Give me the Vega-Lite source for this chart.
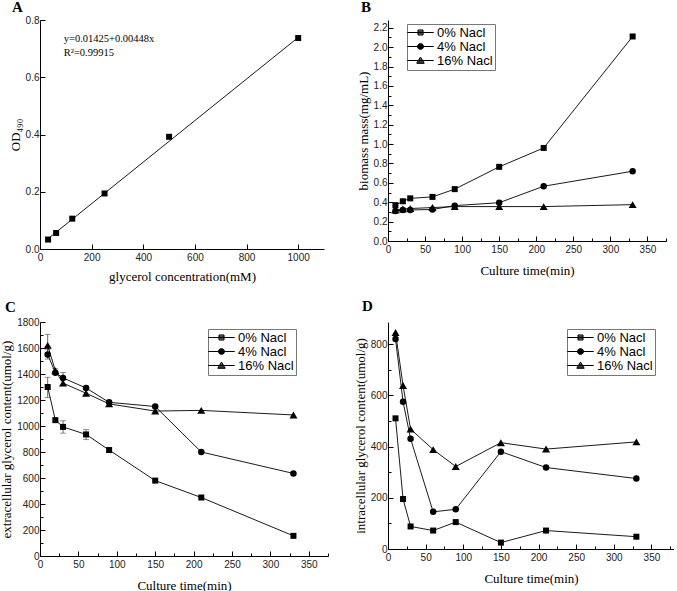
{
  "$schema": "https://vega.github.io/schema/vega-lite/v6.json",
  "autosize": {"type": "pad"},
  "padding": {"left": 0, "top": 0, "right": 0, "bottom": 0},
  "background": "white",
  "columns": 2,
  "bounds": "flush",
  "spacing": {"row": 73, "column": 60},
  "resolve": {"scale": {"shape": "independent"}, "legend": {"shape": "independent"}},
  "datasets": {
    "a": [
      {"c": 31.25, "od": 0.033}, {"c": 62.5, "od": 0.056}, {"c": 125, "od": 0.106},
      {"c": 250, "od": 0.194}, {"c": 500, "od": 0.392}, {"c": 1000, "od": 0.737}
    ],
    "afit": [{"c": 31.25, "od": 0.036}, {"c": 1000, "od": 0.739}],
    "b": [
      {"t": 10, "s": "0% Nacl", "v": 0.37}, {"t": 20, "s": "0% Nacl", "v": 0.41}, {"t": 30, "s": "0% Nacl", "v": 0.44},
      {"t": 60, "s": "0% Nacl", "v": 0.455}, {"t": 90, "s": "0% Nacl", "v": 0.535}, {"t": 150, "s": "0% Nacl", "v": 0.765},
      {"t": 210, "s": "0% Nacl", "v": 0.96}, {"t": 330, "s": "0% Nacl", "v": 2.11},
      {"t": 10, "s": "4% Nacl", "v": 0.31}, {"t": 20, "s": "4% Nacl", "v": 0.32}, {"t": 30, "s": "4% Nacl", "v": 0.32},
      {"t": 60, "s": "4% Nacl", "v": 0.325}, {"t": 90, "s": "4% Nacl", "v": 0.365}, {"t": 150, "s": "4% Nacl", "v": 0.395},
      {"t": 210, "s": "4% Nacl", "v": 0.565}, {"t": 330, "s": "4% Nacl", "v": 0.72},
      {"t": 10, "s": "16% Nacl", "v": 0.32}, {"t": 20, "s": "16% Nacl", "v": 0.33}, {"t": 30, "s": "16% Nacl", "v": 0.335},
      {"t": 60, "s": "16% Nacl", "v": 0.345}, {"t": 90, "s": "16% Nacl", "v": 0.355}, {"t": 150, "s": "16% Nacl", "v": 0.355},
      {"t": 210, "s": "16% Nacl", "v": 0.355}, {"t": 330, "s": "16% Nacl", "v": 0.375}
    ],
    "c": [
      {"t": 10, "s": "0% Nacl", "v": 1300}, {"t": 20, "s": "0% Nacl", "v": 1045}, {"t": 30, "s": "0% Nacl", "v": 993},
      {"t": 60, "s": "0% Nacl", "v": 935}, {"t": 90, "s": "0% Nacl", "v": 815}, {"t": 150, "s": "0% Nacl", "v": 580},
      {"t": 210, "s": "0% Nacl", "v": 450}, {"t": 330, "s": "0% Nacl", "v": 155},
      {"t": 10, "s": "4% Nacl", "v": 1550}, {"t": 20, "s": "4% Nacl", "v": 1410}, {"t": 30, "s": "4% Nacl", "v": 1370},
      {"t": 60, "s": "4% Nacl", "v": 1292}, {"t": 90, "s": "4% Nacl", "v": 1182}, {"t": 150, "s": "4% Nacl", "v": 1150},
      {"t": 210, "s": "4% Nacl", "v": 800}, {"t": 330, "s": "4% Nacl", "v": 635},
      {"t": 10, "s": "16% Nacl", "v": 1620}, {"t": 20, "s": "16% Nacl", "v": 1425}, {"t": 30, "s": "16% Nacl", "v": 1330},
      {"t": 60, "s": "16% Nacl", "v": 1252}, {"t": 90, "s": "16% Nacl", "v": 1170}, {"t": 150, "s": "16% Nacl", "v": 1115},
      {"t": 210, "s": "16% Nacl", "v": 1120}, {"t": 330, "s": "16% Nacl", "v": 1085}
    ],
    "cerr": [
      {"t": 10, "lo": 1220, "hi": 1375}, {"t": 20, "lo": 1033, "hi": 1057}, {"t": 30, "lo": 945, "hi": 1040},
      {"t": 60, "lo": 895, "hi": 972}, {"t": 10, "lo": 1515, "hi": 1590}, {"t": 20, "lo": 1395, "hi": 1440},
      {"t": 30, "lo": 1310, "hi": 1412}, {"t": 60, "lo": 1235, "hi": 1305}, {"t": 10, "lo": 1540, "hi": 1705},
      {"t": 150, "lo": 1100, "hi": 1160}
    ],
    "d": [
      {"t": 10, "s": "0% Nacl", "v": 510}, {"t": 20, "s": "0% Nacl", "v": 195}, {"t": 30, "s": "0% Nacl", "v": 88},
      {"t": 60, "s": "0% Nacl", "v": 72}, {"t": 90, "s": "0% Nacl", "v": 105}, {"t": 150, "s": "0% Nacl", "v": 25},
      {"t": 210, "s": "0% Nacl", "v": 72}, {"t": 330, "s": "0% Nacl", "v": 48},
      {"t": 10, "s": "4% Nacl", "v": 820}, {"t": 20, "s": "4% Nacl", "v": 575}, {"t": 30, "s": "4% Nacl", "v": 430},
      {"t": 60, "s": "4% Nacl", "v": 145}, {"t": 90, "s": "4% Nacl", "v": 155}, {"t": 150, "s": "4% Nacl", "v": 380},
      {"t": 210, "s": "4% Nacl", "v": 318}, {"t": 330, "s": "4% Nacl", "v": 275},
      {"t": 10, "s": "16% Nacl", "v": 845}, {"t": 20, "s": "16% Nacl", "v": 638}, {"t": 30, "s": "16% Nacl", "v": 468},
      {"t": 60, "s": "16% Nacl", "v": 388}, {"t": 90, "s": "16% Nacl", "v": 322}, {"t": 150, "s": "16% Nacl", "v": 415},
      {"t": 210, "s": "16% Nacl", "v": 390}, {"t": 330, "s": "16% Nacl", "v": 418}
    ]
  },
  "concat": [
    {
      "width": 284, "height": 229,
      "title": {"text": "A", "anchor": "start", "frame": "group", "dx": -28, "offset": 0},
      "layer": [
        {
          "data": {"name": "afit"},
          "mark": {"type": "line", "color": "black", "strokeWidth": 0.9},
          "encoding": {
            "x": {"field": "c", "type": "quantitative", "scale": {"domain": [0, 1100], "nice": false},
              "axis": {"values": [0, 100, 200, 300, 400, 500, 600, 700, 800, 900, 1000, 1100],
                "format": "d",
                "labelExpr": "datum.value % 200 === 0 ? datum.label : ''",
                "tickSize": {"condition": {"test": "datum.value % 200 === 0", "value": -5}, "value": -3},
                "title": "glycerol concentration(mM)"}},
            "y": {"field": "od", "type": "quantitative", "scale": {"domain": [0, 0.8], "nice": false},
              "axis": {"values": [0, 0.05, 0.1, 0.15, 0.2, 0.25, 0.3, 0.35, 0.4, 0.45, 0.5, 0.55, 0.6, 0.65, 0.7, 0.75, 0.8],
                "format": ".1f",
                "labelExpr": "round(datum.value * 100) % 10 === 0 ? datum.label : ''",
                "tickSize": {"condition": {"test": "round(datum.value * 100) % 10 === 0", "value": -5}, "value": -3},
                "title": "OD₄₉₀"}}
          }
        },
        {
          "data": {"name": "a"},
          "mark": {"type": "point", "shape": "square", "filled": true, "color": "black", "opacity": 1, "size": 36},
          "encoding": {
            "x": {"field": "c", "type": "quantitative", "scale": {"domain": [0, 1100], "nice": false},
              "axis": {"values": [0, 100, 200, 300, 400, 500, 600, 700, 800, 900, 1000, 1100],
                "format": "d",
                "labelExpr": "datum.value % 200 === 0 ? datum.label : ''",
                "tickSize": {"condition": {"test": "datum.value % 200 === 0", "value": -5}, "value": -3},
                "title": "glycerol concentration(mM)"}},
            "y": {"field": "od", "type": "quantitative", "scale": {"domain": [0, 0.8], "nice": false},
              "axis": {"values": [0, 0.05, 0.1, 0.15, 0.2, 0.25, 0.3, 0.35, 0.4, 0.45, 0.5, 0.55, 0.6, 0.65, 0.7, 0.75, 0.8],
                "format": ".1f",
                "labelExpr": "round(datum.value * 100) % 10 === 0 ? datum.label : ''",
                "tickSize": {"condition": {"test": "round(datum.value * 100) % 10 === 0", "value": -5}, "value": -3},
                "title": "OD₄₉₀"}}
          }
        },
        {
          "data": {"values": [{}]},
          "mark": {"type": "text", "align": "left", "baseline": "middle", "font": "Liberation Serif", "fontSize": 10.5, "color": "black"},
          "encoding": {"x": {"datum": 92}, "y": {"datum": 0.733}, "text": {"value": "y=0.01425+0.00448x"}}
        },
        {
          "data": {"values": [{}]},
          "mark": {"type": "text", "align": "left", "baseline": "middle", "font": "Liberation Serif", "fontSize": 10.5, "color": "black"},
          "encoding": {"x": {"datum": 92}, "y": {"datum": 0.683}, "text": {"value": "R²=0.99915"}}
        }
      ]
    },
    {
      "width": 278, "height": 221,
      "title": {"text": "B", "anchor": "start", "frame": "group", "dx": -27, "offset": 5},
      "data": {"name": "b"},
      "encoding": {
        "x": {"field": "t", "type": "quantitative", "scale": {"domain": [0, 375], "nice": false},
          "axis": {"values": [0, 25, 50, 75, 100, 125, 150, 175, 200, 225, 250, 275, 300, 325, 350, 375],
            "format": "d",
            "labelExpr": "datum.value % 50 === 0 ? datum.label : ''",
            "tickSize": {"condition": {"test": "datum.value % 50 === 0", "value": -5}, "value": -3},
            "title": "Culture time(min)"}},
        "y": {"field": "v", "type": "quantitative", "scale": {"domain": [0, 2.28], "nice": false},
          "axis": {"values": [0, 0.1, 0.2, 0.3, 0.4, 0.5, 0.6, 0.7, 0.8, 0.9, 1, 1.1, 1.2, 1.3, 1.4, 1.5, 1.6, 1.7, 1.8, 1.9, 2, 2.1, 2.2],
            "format": ".1f",
            "labelExpr": "round(datum.value * 10) % 2 === 0 ? datum.label : ''",
            "tickSize": {"condition": {"test": "round(datum.value * 10) % 2 === 0", "value": -5}, "value": -3},
            "title": "biomass mass(mg/mL)"}}
      },
      "layer": [
        {"mark": {"type": "line", "color": "black", "strokeWidth": 0.9}, "encoding": {"detail": {"field": "s"}}},
        {"transform": [{"filter": "datum.s === '0% Nacl'"}], "mark": {"type": "point", "shape": "square", "size": 36, "filled": true, "color": "black", "opacity": 1}},
        {"transform": [{"filter": "datum.s === '4% Nacl'"}], "mark": {"type": "point", "shape": "circle", "size": 42, "filled": true, "color": "black", "opacity": 1}},
        {"transform": [{"filter": "datum.s === '16% Nacl'"}], "mark": {"type": "point", "shape": "triangle-up", "size": 64, "filled": true, "color": "black", "opacity": 1}},
        {"mark": {"type": "point", "filled": false, "color": "black", "strokeWidth": 1, "opacity": 0},
          "encoding": {
            "shape": {"field": "s", "scale": {"domain": ["0% Nacl", "4% Nacl", "16% Nacl"],
              "range": ["M-2.2,0H2.2M-0.42,-0.42H0.42V0.42H-0.42ZM-0.42,-0.25H0.42M-0.42,-0.08H0.42M-0.42,0.08H0.42M-0.42,0.25H0.42", "M-2.2,0H2.2M0.5,0A0.5,0.5,0,1,1,-0.5,0A0.5,0.5,0,1,1,0.5,0ZM-0.375,-0.33H0.375M-0.47,-0.17H0.47M-0.47,0.17H0.47M-0.375,0.33H0.375", "M-2.2,0H2.2M0,-0.58L0.62,0.46H-0.62ZM-0.2,-0.25H0.2M-0.3,-0.08H0.3M-0.39,0.08H0.39M-0.5,0.25H0.5M-0.58,0.4H0.58"]},
              "legend": {"orient": "none", "legendX": 19, "legendY": 4,
                "encode": {"symbols": {"opacity": {"value": 1}, "fill": {"value": "black"}, "fillOpacity": {"value": 1}, "stroke": {"value": "black"}, "strokeWidth": {"value": 1}}}}}
          }}
      ]
    },
    {
      "width": 288, "height": 234,
      "title": {"text": "C", "anchor": "start", "frame": "group", "dx": -35, "offset": 2},
      "encoding": {
        "x": {"field": "t", "type": "quantitative", "scale": {"domain": [0, 375], "nice": false},
          "axis": {"values": [0, 25, 50, 75, 100, 125, 150, 175, 200, 225, 250, 275, 300, 325, 350, 375],
            "format": "d",
            "labelExpr": "datum.value % 50 === 0 ? datum.label : ''",
            "tickSize": {"condition": {"test": "datum.value % 50 === 0", "value": -5}, "value": -3},
            "title": "Culture time(min)"}},
        "y": {"field": "v", "type": "quantitative", "scale": {"domain": [0, 1800], "nice": false},
          "axis": {"values": [0, 100, 200, 300, 400, 500, 600, 700, 800, 900, 1000, 1100, 1200, 1300, 1400, 1500, 1600, 1700, 1800],
            "format": "d",
            "labelExpr": "datum.value % 200 === 0 ? datum.label : ''",
            "tickSize": {"condition": {"test": "datum.value % 200 === 0", "value": -5}, "value": -3},
            "title": "extracellular glycerol content(umol/g)"}}
      },
      "layer": [
        {"data": {"name": "cerr"}, "mark": {"type": "rule", "color": "#444", "strokeWidth": 0.8},
          "encoding": {"y": {"field": "lo", "type": "quantitative"}, "y2": {"field": "hi"}}},
        {"data": {"name": "cerr"}, "mark": {"type": "tick", "orient": "horizontal", "color": "#444", "size": 6, "thickness": 0.8},
          "encoding": {"y": {"field": "lo", "type": "quantitative"}}},
        {"data": {"name": "cerr"}, "mark": {"type": "tick", "orient": "horizontal", "color": "#444", "size": 6, "thickness": 0.8},
          "encoding": {"y": {"field": "hi", "type": "quantitative"}}},
        {"data": {"name": "c"}, "mark": {"type": "line", "color": "black", "strokeWidth": 0.9}, "encoding": {"detail": {"field": "s"}}},
        {"data": {"name": "c"}, "transform": [{"filter": "datum.s === '0% Nacl'"}], "mark": {"type": "point", "shape": "square", "size": 36, "filled": true, "color": "black", "opacity": 1}},
        {"data": {"name": "c"}, "transform": [{"filter": "datum.s === '4% Nacl'"}], "mark": {"type": "point", "shape": "circle", "size": 42, "filled": true, "color": "black", "opacity": 1}},
        {"data": {"name": "c"}, "transform": [{"filter": "datum.s === '16% Nacl'"}], "mark": {"type": "point", "shape": "triangle-up", "size": 64, "filled": true, "color": "black", "opacity": 1}},
        {"data": {"name": "c"}, "mark": {"type": "point", "filled": false, "color": "black", "strokeWidth": 1, "opacity": 0},
          "encoding": {
            "shape": {"field": "s", "scale": {"domain": ["0% Nacl", "4% Nacl", "16% Nacl"],
              "range": ["M-2.2,0H2.2M-0.42,-0.42H0.42V0.42H-0.42ZM-0.42,-0.25H0.42M-0.42,-0.08H0.42M-0.42,0.08H0.42M-0.42,0.25H0.42", "M-2.2,0H2.2M0.5,0A0.5,0.5,0,1,1,-0.5,0A0.5,0.5,0,1,1,0.5,0ZM-0.375,-0.33H0.375M-0.47,-0.17H0.47M-0.47,0.17H0.47M-0.375,0.33H0.375", "M-2.2,0H2.2M0,-0.58L0.62,0.46H-0.62ZM-0.2,-0.25H0.2M-0.3,-0.08H0.3M-0.39,0.08H0.39M-0.5,0.25H0.5M-0.58,0.4H0.58"]},
              "legend": {"orient": "none", "legendX": 168, "legendY": 7,
                "encode": {"symbols": {"opacity": {"value": 1}, "fill": {"value": "black"}, "fillOpacity": {"value": 1}, "stroke": {"value": "black"}, "strokeWidth": {"value": 1}}}}}
          }}
      ]
    },
    {
      "width": 286, "height": 227,
      "title": {"text": "D", "anchor": "start", "frame": "group", "dx": -26, "offset": 8},
      "data": {"name": "d"},
      "encoding": {
        "x": {"field": "t", "type": "quantitative", "scale": {"domain": [0, 380], "nice": false},
          "axis": {"values": [0, 25, 50, 75, 100, 125, 150, 175, 200, 225, 250, 275, 300, 325, 350, 375],
            "format": "d",
            "labelExpr": "datum.value % 50 === 0 ? datum.label : ''",
            "tickSize": {"condition": {"test": "datum.value % 50 === 0", "value": -5}, "value": -3},
            "title": "Culture time(min)"}},
        "y": {"field": "v", "type": "quantitative", "scale": {"domain": [0, 886], "nice": false},
          "axis": {"values": [0, 100, 200, 300, 400, 500, 600, 700, 800],
            "format": "d",
            "labelExpr": "datum.value % 200 === 0 ? datum.label : ''",
            "tickSize": {"condition": {"test": "datum.value % 200 === 0", "value": -5}, "value": -3},
            "title": "intracellular glycerol content(umol/g)"}}
      },
      "layer": [
        {"mark": {"type": "line", "color": "black", "strokeWidth": 0.9}, "encoding": {"detail": {"field": "s"}}},
        {"transform": [{"filter": "datum.s === '0% Nacl'"}], "mark": {"type": "point", "shape": "square", "size": 36, "filled": true, "color": "black", "opacity": 1}},
        {"transform": [{"filter": "datum.s === '4% Nacl'"}], "mark": {"type": "point", "shape": "circle", "size": 42, "filled": true, "color": "black", "opacity": 1}},
        {"transform": [{"filter": "datum.s === '16% Nacl'"}], "mark": {"type": "point", "shape": "triangle-up", "size": 64, "filled": true, "color": "black", "opacity": 1}},
        {"mark": {"type": "point", "filled": false, "color": "black", "strokeWidth": 1, "opacity": 0},
          "encoding": {
            "shape": {"field": "s", "scale": {"domain": ["0% Nacl", "4% Nacl", "16% Nacl"],
              "range": ["M-2.2,0H2.2M-0.42,-0.42H0.42V0.42H-0.42ZM-0.42,-0.25H0.42M-0.42,-0.08H0.42M-0.42,0.08H0.42M-0.42,0.25H0.42", "M-2.2,0H2.2M0.5,0A0.5,0.5,0,1,1,-0.5,0A0.5,0.5,0,1,1,0.5,0ZM-0.375,-0.33H0.375M-0.47,-0.17H0.47M-0.47,0.17H0.47M-0.375,0.33H0.375", "M-2.2,0H2.2M0,-0.58L0.62,0.46H-0.62ZM-0.2,-0.25H0.2M-0.3,-0.08H0.3M-0.39,0.08H0.39M-0.5,0.25H0.5M-0.58,0.4H0.58"]},
              "legend": {"orient": "none", "legendX": 179, "legendY": 7,
                "encode": {"symbols": {"opacity": {"value": 1}, "fill": {"value": "black"}, "fillOpacity": {"value": 1}, "stroke": {"value": "black"}, "strokeWidth": {"value": 1}}}}}
          }}
      ]
    }
  ],
  "config": {
    "view": {"stroke": null},
    "title": {"font": "Liberation Serif", "fontSize": 15, "fontWeight": "bold", "color": "black"},
    "axis": {
      "grid": false,
      "domainColor": "black", "domainWidth": 1,
      "tickColor": "black", "tickWidth": 1,
      "labelFont": "Liberation Sans", "labelFontSize": 10, "labelColor": "#222",
      "labelPadding": 8, "labelOverlap": false, "labelFlush": false, "labelBound": false,
      "titleFont": "Liberation Serif", "titleFontSize": 13, "titleFontWeight": "normal", "titleColor": "black",
      "titlePadding": 8
    },
    "axisY": {"labelPadding": 6, "titlePadding": 3},
    "legend": {
      "title": null,
      "strokeColor": "#777", "fillColor": "white", "padding": 2,
      "symbolSize": 144, "symbolOffset": 5, "labelOffset": 10, "rowPadding": 0,
      "labelFont": "Liberation Sans", "labelFontSize": 13, "labelColor": "black",
      "symbolOpacity": 1, "symbolStrokeColor": "black", "symbolStrokeWidth": 1,
      "symbolLimit": 0
    }
  }
}
